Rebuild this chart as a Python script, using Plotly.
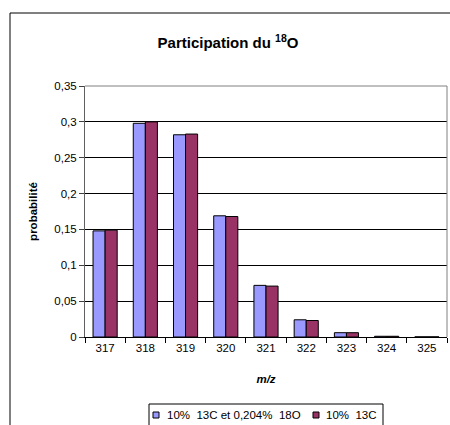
import plotly.graph_objects as go

categories = ["317", "318", "319", "320", "321", "322", "323", "324", "325"]
series1_name = "10%  13C et 0,204%  18O"
series1_values = [0.148, 0.298, 0.282, 0.169, 0.072, 0.024, 0.006, 0.001, 0.0002]
series2_name = "10%  13C"
series2_values = [0.149, 0.300, 0.283, 0.168, 0.071, 0.023, 0.006, 0.001, 0.0002]
y_tickvals = [0, 0.05, 0.1, 0.15, 0.2, 0.25, 0.3, 0.35]
y_ticktext = ["0", "0,05", "0,1", "0,15", "0,2", "0,25", "0,3", "0,35"]
colors = ["#9999FF", "#993366"]

FONT = "Liberation Sans, Arial, sans-serif"

fig = go.Figure()
for name, vals, col in [(series1_name, series1_values, colors[0]),
                        (series2_name, series2_values, colors[1])]:
    fig.add_trace(go.Bar(x=categories, y=vals, name=name, showlegend=False,
                         marker=dict(color=col, line=dict(color="#000000", width=1))))

L, R, T, B = 85, 3, 86, 88
W, H = 450, 425
pw, ph = W - L - R, H - T - B

def px_x(x):
    return (x - L) / pw

def px_y(y):
    return (H - B - y) / ph

shapes = [
    dict(type="line", xref="paper", yref="paper", x0=0, x1=1, y0=1, y1=1,
         line=dict(color="#808080", width=1)),
    dict(type="line", xref="paper", yref="paper", x0=1, x1=1, y0=0, y1=1,
         line=dict(color="#808080", width=1)),
    # outer chart frame
    dict(type="rect", xref="paper", yref="paper",
         x0=px_x(10), x1=px_x(470), y0=px_y(13), y1=px_y(450),
         line=dict(color="black", width=1), fillcolor="rgba(0,0,0,0)", layer="below"),
    # legend box
    dict(type="rect", xref="paper", yref="paper",
         x0=px_x(149), x1=px_x(383), y0=px_y(404), y1=px_y(440),
         line=dict(color="black", width=1), fillcolor="white", layer="below"),
]
annotations = []
legend_items = [(series1_name, colors[0], 153, 165), (series2_name, colors[1], 313, 324)]
for name, col, sx, tx in legend_items:
    shapes.append(dict(type="rect", xref="paper", yref="paper",
                       x0=px_x(sx), x1=px_x(sx + 6), y0=px_y(418), y1=px_y(412),
                       line=dict(color="black", width=1), fillcolor=col))
    annotations.append(dict(text=name, xref="paper", yref="paper", x=px_x(tx), y=px_y(415),
                            xanchor="left", yanchor="middle", showarrow=False,
                            font=dict(family=FONT, size=11.5, color="black")))

fig.update_layout(
    width=W, height=H,
    margin=dict(l=L, r=R, t=T, b=B, pad=0),
    paper_bgcolor="white", plot_bgcolor="white",
    font=dict(family=FONT, size=11.5, color="black"),
    barmode="group", bargap=0.4, bargroupgap=0,
    showlegend=False,
    title=dict(text="<b>Participation du <sup>18</sup>O</b>", x=228 / W, xanchor="center",
               y=1 - 43 / H, yanchor="middle", font=dict(family=FONT, size=15)),
    xaxis=dict(type="category", tickson="boundaries", ticks="outside", ticklen=5,
               tickcolor="black", showline=True, linecolor="black", linewidth=1,
               showgrid=False, tickfont=dict(family=FONT, size=11.5),
               title=dict(text="<b><i>m/z</i></b>", font=dict(family=FONT, size=11.5), standoff=22)),
    yaxis=dict(range=[0, 0.35], tickvals=y_tickvals, ticktext=y_ticktext,
               ticks="outside", ticklen=5, tickcolor="#404040",
               showline=True, linecolor="#606060", linewidth=1,
               showgrid=True, gridcolor="black", gridwidth=1, zeroline=False,
               tickfont=dict(family=FONT, size=11.5),
               title=dict(text="<b>probabilité</b>", font=dict(family=FONT, size=11.5), standoff=14)),
    shapes=shapes,
    annotations=annotations,
)

fig.write_html("out.html", config={"displayModeBar": False},
               post_script="document.body.style.margin='0';")
